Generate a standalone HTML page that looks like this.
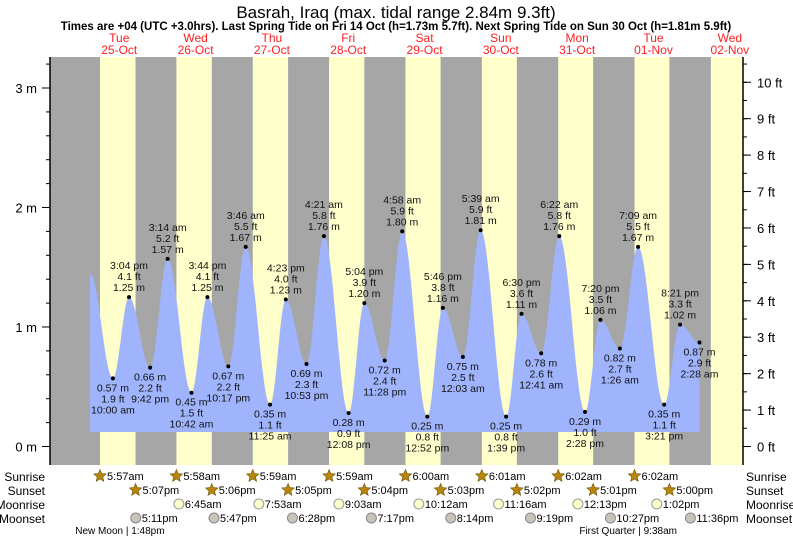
<!DOCTYPE html>
<html><head><meta charset="utf-8"><style>
body{margin:0;background:#fff;}
svg{display:block;font-family:"Liberation Sans",sans-serif;}
</style></head><body>
<svg id="chart" width="793" height="539" viewBox="0 0 793 539" xmlns="http://www.w3.org/2000/svg">
<text x="396" y="18" text-anchor="middle" font-size="17" fill="#000">Basrah, Iraq (max. tidal range 2.84m 9.3ft)</text>
<text x="396" y="30" text-anchor="middle" font-size="11.5" font-weight="bold" fill="#000">Times are +04 (UTC +3.0hrs). Last Spring Tide on Fri 14 Oct (h=1.73m 5.7ft). Next Spring Tide on Sun 30 Oct (h=1.81m 5.9ft)</text>
<g id="bg"></g>
<g id="tide"></g>
<g id="axes"></g>
<g id="rows"></g>
</svg>
<script>
const dayNames=["Tue","Wed","Thu","Fri","Sat","Sun","Mon","Tue","Wed"];
const dayDates=["25-Oct","26-Oct","27-Oct","28-Oct","29-Oct","30-Oct","31-Oct","01-Nov","02-Nov"];
const sunriseH=[5.95,5.967,5.983,5.983,6.0,6.017,6.033,6.033,6.033];
const sunsetH=[17.117,17.1,17.083,17.067,17.05,17.033,17.017,17.0,17.0];
const sunriseLbl=["5:57am","5:58am","5:59am","5:59am","6:00am","6:01am","6:02am","6:02am"];
const sunsetLbl=["5:07pm","5:06pm","5:05pm","5:04pm","5:03pm","5:02pm","5:01pm","5:00pm"];
const moonriseT=[30.75,55.883,81.05,106.2,131.267,156.217,181.033];
const moonriseLbl=["6:45am","7:53am","9:03am","10:12am","11:16am","12:13pm","1:02pm"];
const moonsetT=[17.183,41.783,66.467,91.283,116.233,141.317,166.45,191.6];
const moonsetLbl=["5:11pm","5:47pm","6:28pm","7:17pm","8:14pm","9:19pm","10:27pm","11:36pm"];
const phaseT=[13.8,177.633];
const phaseLbl=["New Moon | 1:48pm","First Quarter | 9:38am"];
const tideT=[2.8,10,15.07,21.7,27.23,34.7,39.73,46.28,51.77,59.42,64.38,70.88,76.35,84.13,89.07,95.47,100.97,108.87,113.77,120.05,125.65,133.65,138.5,144.68,150.37,158.47,163.33,169.43,175.15,183.35,188.35,194.47];
const tideH=[1.45,0.57,1.25,0.66,1.57,0.45,1.25,0.67,1.67,0.35,1.23,0.69,1.76,0.28,1.20,0.72,1.80,0.25,1.16,0.75,1.81,0.25,1.11,0.78,1.76,0.29,1.06,0.82,1.67,0.35,1.02,0.87];
const tideLbl=["","10:00 am","3:04 pm","9:42 pm","3:14 am","10:42 am","3:44 pm","10:17 pm","3:46 am","11:25 am","4:23 pm","10:53 pm","4:21 am","12:08 pm","5:04 pm","11:28 pm","4:58 am","12:52 pm","5:46 pm","12:03 am","5:39 am","1:39 pm","6:30 pm","12:41 am","6:22 am","2:28 pm","7:20 pm","1:26 am","7:09 am","3:21 pm","8:21 pm","2:28 am"];
const mTicks=[0,1,2,3];
const ftTicks=[0,1,2,3,4,5,6,7,8,9,10];

const NS="http://www.w3.org/2000/svg";
const L=50,R=743,T=57,B=465,X0=81.1,PH=3.18,Y0=446.5,PM=119.5;
const x=h=>X0+h*PH, y=m=>Y0-m*PM;
function mk(tag,attrs,parent,txt){const e=document.createElementNS(NS,tag);for(const k in attrs)e.setAttribute(k,attrs[k]);if(txt!==undefined)e.textContent=txt;parent.appendChild(e);return e;}
const bg=document.getElementById('bg'),tide=document.getElementById('tide'),axes=document.getElementById('axes'),rows=document.getElementById('rows');

let r=mk('rect',{x:L,y:T,width:R-L,height:B-T,fill:'#a6a6a6'},bg);


for(let d=0;d<9;d++){
  const a=Math.max(L,x(d*24+sunriseH[d])),b=Math.min(R,x(d*24+sunsetH[d]));
  if(b>a){const band=mk('rect',{x:a,y:T,width:b-a,height:B-T,fill:'#ffffcc'},bg);
  
  }
  const cx=x(d*24+12);
  const t1=mk('text',{x:cx,y:42,'text-anchor':'middle','font-size':12,fill:'#ff2020'},bg,dayNames[d]);
  
  
  const t2=mk('text',{x:cx,y:54,'text-anchor':'middle','font-size':12,fill:'#ff2020'},bg,dayDates[d]);
  
  
}
// tide curve
let pts=[];
for(let i=0;i<tideT.length-1;i++){
  const t0=tideT[i],t1=tideT[i+1],h0=tideH[i],h1=tideH[i+1];
  for(let s=0;s<=20;s++){
    const f=s/20,tt=t0+(t1-t0)*f;
    const hh=i===0? h0+(h1-h0)*Math.sin(Math.PI*f/2)**2*1 : h0+(h1-h0)*(1-Math.cos(Math.PI*f))/2;
    pts.push([x(tt),y(hh)]);}
}
const baseY=432;
let d='M'+pts[0][0]+','+baseY+' '+pts.map(p=>'L'+p[0].toFixed(1)+','+p[1].toFixed(1)).join(' ')+' L'+pts[pts.length-1][0]+','+baseY+' Z';
const area=mk('path',{d:d,fill:'#9fb4fc'},tide);


for(let i=1;i<tideT.length;i++){
  const px=x(tideT[i]),py=y(tideH[i]);
  const high=tideH[i]>tideH[i-1];
  const dot=mk('circle',{cx:px,cy:py,r:2,fill:'#000'},tide);
  
  
  const ls=[tideH[i].toFixed(2)+' m',(tideH[i]*3.2808).toFixed(1)+' ft',tideLbl[i]];
  const g=mk('g',{'font-size':10.5,fill:'#111','text-anchor':'middle'},tide);
  
  
  for(let k=0;k<3;k++){
    const yy=high?py-6-k*11:py+13+k*11;
    mk('text',{x:px,y:yy},g,ls[k]);
  }
}
// axes
mk('line',{x1:L,y1:T,x2:L,y2:B,stroke:'#000','stroke-width':1.5},axes);
mk('line',{x1:R,y1:T,x2:R,y2:B,stroke:'#000','stroke-width':1.5},axes);
for(let v=0;v<=3.4;v+=0.2){const yy=y(v);if(yy<T)break;mk('line',{x1:L-4,y1:yy,x2:L,y2:yy,stroke:'#000'},axes);}
for(let v=0;v<=11;v+=0.5){const yy=y(v*0.3048);if(yy<T)break;mk('line',{x1:R,y1:yy,x2:R+4,y2:yy,stroke:'#000'},axes);}
mTicks.forEach(v=>{const yy=y(v);mk('line',{x1:L-8,y1:yy,x2:L,y2:yy,stroke:'#000'},axes);
  const t=mk('text',{x:L-13,y:yy+5,'text-anchor':'end','font-size':13},axes,v+' m');
  
  });
ftTicks.forEach(v=>{const yy=y(v*0.3048);mk('line',{x1:R,y1:yy,x2:R+8,y2:yy,stroke:'#000'},axes);
  const t=mk('text',{x:R+14,y:yy+5,'font-size':13},axes,v+' ft');
  
  });
// rows
const rowY=[476,490,504,518];
const rowNames=["Sunrise","Sunset","Moonrise","Moonset"];
rowNames.forEach((n,i)=>{
  const a=mk('text',{x:45,y:rowY[i]+5,'text-anchor':'end','font-size':12},rows,n);
  
  
  const b=mk('text',{x:746,y:rowY[i]+5,'font-size':12},rows,n);
  
  
});
function star(cx,cy,rr){let p=[];for(let k=0;k<10;k++){const a=-Math.PI/2+k*Math.PI/5,q=k%2?rr*0.45:rr;p.push((cx+q*Math.cos(a)).toFixed(1)+','+(cy+q*Math.sin(a)).toFixed(1));}return p.join(' ');}
for(let dd=0;dd<8;dd++){
  const sx=x(dd*24+sunriseH[dd]);
  const s=mk('polygon',{points:star(sx,rowY[0],6.5),fill:'#b8860b',stroke:'#6b5000','stroke-width':0.6},rows);
  
  
  mk('text',{x:sx+7,y:rowY[0]+4,'font-size':11},rows,sunriseLbl[dd]);
  const ex=x(dd*24+sunsetH[dd]);
  const s2=mk('polygon',{points:star(ex,rowY[1],6.5),fill:'#b8860b',stroke:'#6b5000','stroke-width':0.6},rows);
  
  
  mk('text',{x:ex+7,y:rowY[1]+4,'font-size':11},rows,sunsetLbl[dd]);
}
moonriseT.forEach((t,i)=>{const mx=x(t);
  const c=mk('circle',{cx:mx,cy:rowY[2],r:5,fill:'#ffffcc',stroke:'#999'},rows);
  
  
  mk('text',{x:mx+6,y:rowY[2]+4,'font-size':11},rows,moonriseLbl[i]);});
moonsetT.forEach((t,i)=>{const mx=x(t);
  const c=mk('circle',{cx:mx,cy:rowY[3],r:5,fill:'#c8c4b8',stroke:'#888'},rows);
  
  
  mk('text',{x:mx+6,y:rowY[3]+4,'font-size':11},rows,moonsetLbl[i]);});
phaseT.forEach((t,i)=>{const lbl=phaseLbl[i];const mx=x(t);
  const t2=mk('text',{x:mx,y:534,'font-size':10,'text-anchor':'middle'},rows,lbl);
  
  
  const w=lbl.length*5.1, pipe=lbl.indexOf('|')*5.1+2.5;
  t2.setAttribute('x',mx-pipe+w/2);});
</script>
</body></html>
